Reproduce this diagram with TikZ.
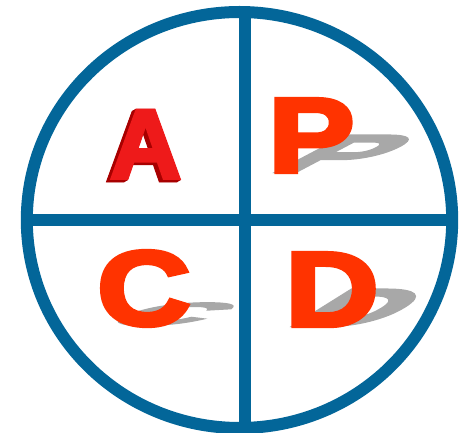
\documentclass[tikz,border=0pt]{standalone}
\usepackage{fontspec}
\newfontfamily\heavy{Liberation Sans}[BoldFeatures={FakeBold=4}]
\definecolor{ringblue}{HTML}{036699}
\definecolor{letterred}{HTML}{FF3300}
\definecolor{ared}{HTML}{EE1A1A}
\definecolor{adark}{HTML}{A80000}
\definecolor{shadowgray}{HTML}{A8A8A8}
\tikzset{
  ring/.style={draw=ringblue, line width=12pt},
  letter/.style={inner sep=0pt, anchor=base west, text=letterred, xscale=1.22,
    font=\heavy\bfseries\fontsize{106}{106}\selectfont},
  shade/.style={inner sep=0pt, anchor=base west, text=shadowgray, transform shape, xscale=1.22,
    font=\heavy\bfseries\fontsize{106}{106}\selectfont},
  aletter/.style={inner sep=0pt, anchor=base west, xscale=1.0,
    font=\heavy\bfseries\fontsize{98}{98}\selectfont},
}
\begin{document}
\begin{tikzpicture}[x=1pt,y=1pt]
\useasboundingbox (0,0) rectangle (466,433);
\coordinate (O) at (239.5,213);
\begin{scope}
  \clip (O) ellipse [x radius=212.7, y radius=208];
  \draw[ring] (245,0) -- (245,433);
  \draw[ring] (0,213) -- (466,213);
\end{scope}
\draw[ring] (O) ellipse [x radius=212.7, y radius=208];
% shadows
\begin{scope}[shift={(268,261)}, cm={1,0,0.95,0.5,(0,0)}]
  \node[shade] (Ps) at (0,0) {P};
\end{scope}
\begin{scope}[shift={(285,107)}, cm={1,0,0.8,0.5,(0,0)}]
  \node[shade] (Ds) at (0,0) {D};
\end{scope}
\begin{scope}[shift={(97,108)}, cm={1,0,0.8,0.3,(0,0)}]
  \node[shade] (Cs) at (0,0) {C};
\end{scope}
% letters
\node[letter] (P) at (268,261) {P};
\node[letter] (D) at (285,107) {D};
\node[letter] (C) at (97,108) {C};
% A with 3D depth
\foreach \d in {4,3.5,3,2.5,2,1.5,1,0.5}{
  \node[aletter, text=adark] at (110-\d,255-\d*0.6) {A};
}
\node[aletter, text=ared] (A) at (110,255) {A};
\end{tikzpicture}
\end{document}
